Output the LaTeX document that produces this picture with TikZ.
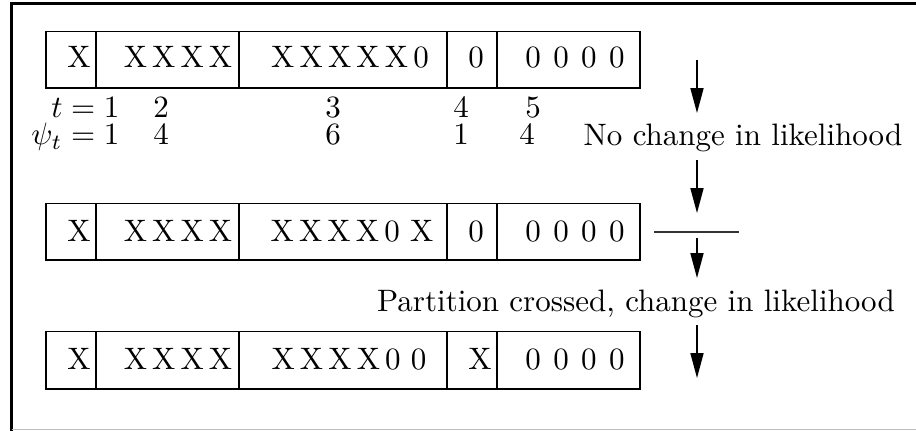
\documentclass[tikz,border=0pt]{standalone}
\usetikzlibrary{arrows.meta,fit}
\begin{document}
\begin{tikzpicture}[x=0.3226pt,y=-0.3226pt,
  cell/.style={draw, line width=0.45pt, inner sep=0pt},
  txt/.style={inner sep=0pt, anchor=base},
  flow/.style={line width=0.45pt, -{Triangle[length=8pt,width=4.2pt]}},
  frame/.style={line width=1pt}]
\useasboundingbox (0,0) rectangle (916,431);
% outer frame
\draw[frame] (11.7,431) -- (11.7,3.3) -- (916,3.3);
\draw[line width=0.4pt, black!25] (11.7,429.3) -- (916,429.3);

% three rows of five cells
\foreach \r/\top/\bot in {1/31.7/88, 2/203.3/260, 3/331.7/389}{
  \foreach \a/\b/\c in {46/96/1, 96/239/2, 239/447/3, 447/497/4, 497/640/5}{
    \node[cell, fit={(\a,\top) (\b,\bot)}] (r\r c\c) {};
  }
}

% cell contents
\node[txt] (s11) at (79,68) {X};
\node[txt] (s12) at (178,68) {X\,X\,X\,X};
\node[txt] (s13) at (350,68) {X\,X\,X\,X\,X\,0};
\node[txt] (s14) at (476,68) {0};
\node[txt] (s15) at (575,68) {0\hspace{4pt}0\hspace{4pt}0\hspace{4pt}0};

\node[txt] (s21) at (79,242) {X};
\node[txt] (s22) at (178,242) {X\,X\,X\,X};
\node[txt] (s23) at (352,242) {X\,X\,X\,X\,0\ X};
\node[txt] (s24) at (476,242) {0};
\node[txt] (s25) at (575,242) {0\hspace{4pt}0\hspace{4pt}0\hspace{4pt}0};

\node[txt] (s31) at (79,370) {X};
\node[txt] (s32) at (178,370) {X\,X\,X\,X};
\node[txt] (s33) at (349,370) {X\,X\,X\,X\,0\ 0};
\node[txt] (s34) at (480,370) {X};
\node[txt] (s35) at (575,370) {0\hspace{4pt}0\hspace{4pt}0\hspace{4pt}0};

% indices and sizes under the first row
\node[inner sep=0pt, anchor=base east] (tlab) at (120,118) {$t=1$};
\node[txt] (t2) at (161,118) {2};
\node[txt] (t3) at (333,118) {3};
\node[txt] (t4) at (461,118) {4};
\node[txt] (t5) at (533,118) {5};
\node[inner sep=0pt, anchor=base east] (plab) at (120,145) {$\psi_t=1$};
\node[txt] (p2) at (161,145) {4};
\node[txt] (p3) at (333,145) {6};
\node[txt] (p4) at (461,145) {1};
\node[txt] (p5) at (527,145) {4};

% annotations
\node[txt] (nochange) at (743,146) {No change in likelihood};
\node[txt] (crossed) at (636,312) {Partition crossed, change in likelihood};

% arrows and the partition boundary
\coordinate (a1s) at (697,60);  \coordinate (a1e) at (697,113);
\coordinate (a2s) at (697,160); \coordinate (a2e) at (697,213);
\coordinate (a3s) at (697,238); \coordinate (a3e) at (697,278);
\coordinate (a4s) at (697,325); \coordinate (a4e) at (697,378);
\draw[flow] (a1s) -- (a1e);
\draw[flow] (a2s) -- (a2e);
\draw[flow] (a3s) -- (a3e);
\draw[flow] (a4s) -- (a4e);
\coordinate (bl) at (654,232); \coordinate (br) at (739,232);
\draw[line width=0.5pt, black!80] (bl) -- (br);
\end{tikzpicture}
\end{document}
